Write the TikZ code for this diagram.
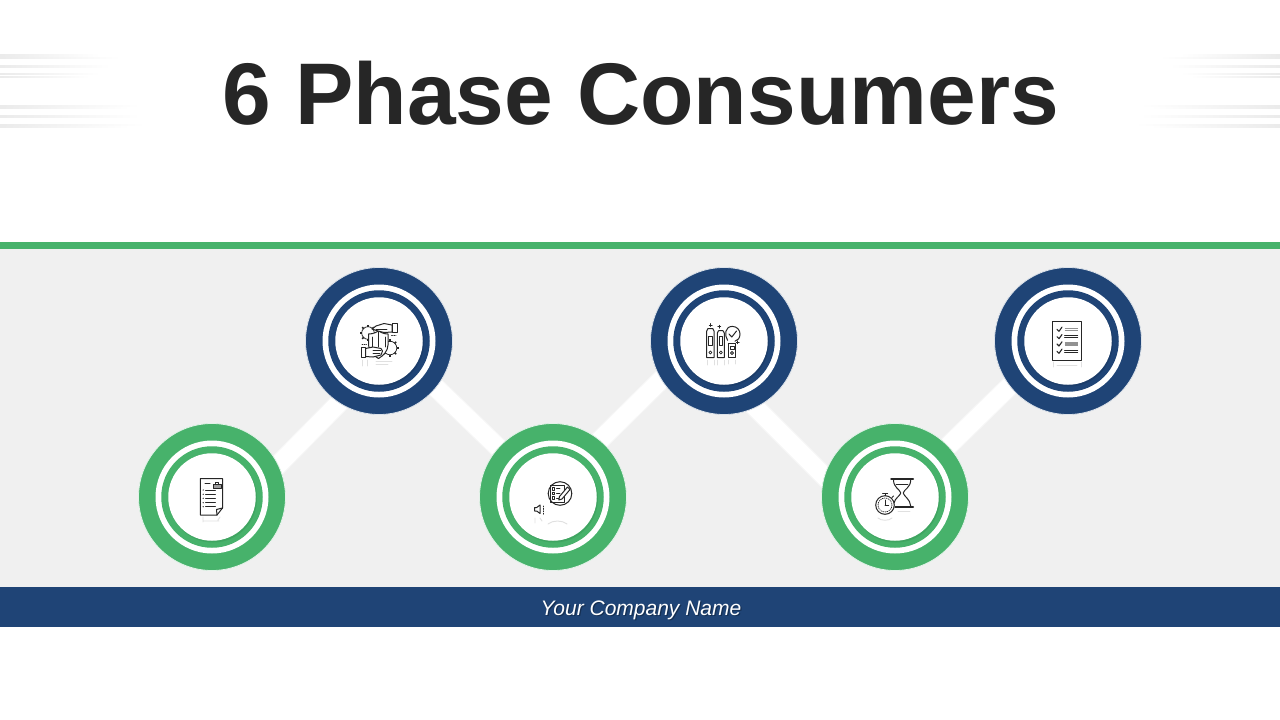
\documentclass[tikz,border=0pt]{standalone}
\usepackage{fontspec}
\setmainfont{Liberation Sans}
\usetikzlibrary{calc,decorations.pathmorphing}
\definecolor{brgreen}{HTML}{47B26B}
\definecolor{brgreend}{HTML}{3FA561}
\definecolor{brblue}{HTML}{1F4476}
\definecolor{brblued}{HTML}{1B3C69}
\definecolor{panelgray}{HTML}{F0F0F0}
\definecolor{titleink}{HTML}{262626}
\definecolor{iconink}{HTML}{262626}
\pgfdeclarelayer{panel}\pgfdeclarelayer{links}
\pgfsetlayers{panel,links,main}
\tikzset{
 outerdisc/.style={circle,minimum size=147pt,inner sep=0pt,fill=#1,draw=#1!15!white,line width=.8pt},
 ringwhite/.style={circle,minimum size=113pt,inner sep=0pt,fill=white},
 ringcolor/.style={circle,minimum size=101.5pt,inner sep=0pt,fill=#1},
 crescent/.style={circle,minimum size=88pt,inner sep=0pt,fill=#1},
 innerdisc/.style={circle,minimum size=87.5pt,inner sep=0pt,fill=white},
 linkbar/.style={line width=18pt,white},
 linkedge/.style={line width=20pt,black!3},
 ink/.style={draw=iconink,line width=1pt,line cap=round,line join=round},
 thin ink/.style={draw=iconink,line width=.75pt,line cap=round,line join=round},
 graybar/.style={draw=iconink!50,line width=1.2pt},
 refl/.style={draw=black!12,line width=.9pt,line cap=round},
 streakL/.style={left color=black!8,right color=white,draw=none},
 streakR/.style={right color=black!8,left color=white,draw=none},
}
\begin{document}
\begin{tikzpicture}[x=1pt,y=-1pt]
\useasboundingbox (0,0) rectangle (1280,720);
\begin{pgfonlayer}{panel}
\fill[white] (0,0) rectangle (1280,720);
\fill[panelgray] (0,249) rectangle (1280,587);
\fill[brgreen] (0,242) rectangle (1280,249);
\fill[brblue] (0,587) rectangle (1280,627);
\foreach \y/\w/\t in {55.5/100/1.2,57.8/120/1.2,66/110/2,74.3/100/1.2,76.7/90/1.2,105.7/140/1.2,108.3/130/1.2,116/140/2,125/145/1.2,127.3/130/1.2}{
  \fill[streakL] (0,\y-.5*\t) rectangle (\w,\y+.5*\t);
  \fill[streakR] (1280-\w,\y-.5*\t) rectangle (1280,\y+.5*\t);
}
\end{pgfonlayer}

\node[anchor=base,font=\fontsize{87.5}{88}\selectfont\bfseries,text=titleink,inner sep=0pt] (title) at (640.6,124) {6 Phase Consumers};
\node[anchor=base,font=\fontsize{21}{21}\selectfont\itshape,text=black,inner sep=0pt,opacity=.3] (companyshadow) at (642.2,616.2) {Your Company Name};
\node[anchor=base,font=\fontsize{21}{21}\selectfont\itshape,text=white,inner sep=0pt] (company) at (641,615.2) {Your Company Name};

% circles
\foreach \n/\x/\y/\c/\d in {c1/212/497/brgreen/brgreend,c2/379/341/brblue/brblued,c3/553/497/brgreen/brgreend,c4/724/341/brblue/brblued,c5/895/497/brgreen/brgreend,c6/1068/341/brblue/brblued}{
  \node[outerdisc=\c] (\n) at (\x,\y) {};
  \node[ringwhite] (\n w) at (\x,\y) {};
  \node[ringcolor=\c] (\n r) at (\x,\y) {};
  \node[crescent=\d] (\n s) at (\x+1,\y+1.5) {};
  \node[innerdisc] (\n i) at (\x,\y) {};
}
\begin{pgfonlayer}{links}
\foreach \s in {linkedge,linkbar}{
\draw[\s] ($(c1.center)+(60,-26)$) -- ($(c2.center)+(-33,55)$);
\draw[\s] ($(c2.center)+(49,39)$) -- ($(c3.center)+(-46,-41)$);
\draw[\s] ($(c3.center)+(38,-48)$) -- ($(c4.center)+(-55,31)$);
\draw[\s] ($(c4.center)+(24,59)$) -- ($(c5.center)+(-62,-12)$);
\draw[\s] ($(c5.center)+(45,-43)$) -- ($(c6.center)+(-50,37)$);
}
\end{pgfonlayer}

% icon 1: document with briefcase
\draw[refl] (203,517)--(203,522) (220,517)--(218,520) (203,521)--(219,521);
\draw[ink] (200.3,478.5)--(222.5,478.5)--(222.5,508)--(217,515)--(200.3,515)--cycle;
\draw[ink] (222.5,508)--(216.5,509.5)--(217,515);
\draw[ink] (205,483.5)--(210,483.5);
\draw[thin ink,fill=iconink!45] (213,484)rectangle(221,488.5);
\draw[thin ink] (215.5,484)--(215.5,482.2)--(218.5,482.2)--(218.5,484);
\foreach \y in {490,494.3,498.3,502.7,506.7}{
  \fill[iconink] (203.2,\y) circle (.7);
  \draw[thin ink] (205.5,\y)--(215.5,\y);
}

% icon 2: shield, gears, hands
\draw[refl] (362,360)--(362,366) (367,360)--(367,366) (376,361)--(392,361) (376,364.5)--(388,364.5);
\draw[thin ink,fill=white] (368,333) circle (6.3);
\draw[thin ink,fill=white] (390,348) circle (6.8);
\foreach \a in {0,45,...,315}{
  \draw[ink,line width=1.5pt,line cap=butt] ($(368,333)+(\a:6)$)--($(368,333)+(\a:8.2)$);
  \draw[ink,line width=1.5pt,line cap=butt] ($(390,348)+(\a:6.5)$)--($(390,348)+(\a:8.7)$);
}
\draw[ink,fill=white] (368.5,334) .. controls (374,334) and (376,332) .. (378.5,331) .. controls (381,332) and (383,334) .. (388,334) -- (388,345) .. controls (388,351) and (383,356) .. (378.5,358.5) .. controls (374,356) and (368.5,351) .. (368.5,345) -- cycle;
\draw[thin ink] (378.5,331)--(378.5,347) (372,337)--(372,347) (385,337)--(385,347);
\draw[ink,fill=white] (372,329)--(376,326)--(384,323.5)--(392,325)--(392,332)--(384,332.5)--(378,331)--cycle;
\draw[ink,fill=white] (392.5,323.5) rectangle (397,332.5);
\draw[thin ink] (376,329)--(387,329);
\draw[ink,fill=white] (365.5,348.5)--(373,347)--(381,348.5)--(382.5,351)--(381,355)--(373,357)--(365.5,356.5)--cycle;
\draw[ink,fill=white] (361.8,347) rectangle (365.5,357);
\draw[thin ink] (373,350.5)--(381,350.5) (373,353.5)--(380,353.5);
\draw[thin ink,dash pattern=on 1pt off 1.2pt] (362,344)--(366.5,344) (391.5,335)--(396,335);

% icon 3: clipboard in circle with speaker
\draw[refl] (535,518)--(535,523) (540,518)--(542,521);
\draw[refl] (548,524) .. controls (553,520) and (562,520) .. (567,524);
\draw[ink] (560,493.5) circle (11.8);
\draw[ink] (550,485.5) rectangle (564,502);
\foreach \y in {488.7,493.3,498}{
  \draw[thin ink] (552,\y-1.2) rectangle (554.5,\y+1.2);
  \draw[thin ink] (556.5,\y)--(560,\y);
}
\draw[ink,fill=white] (567.5,487)--(570,489.5)--(562,499)--(558.8,500)--(559.5,496.5)--cycle;
\draw[ink] (534.5,507.5)--(536.7,507.5)--(540,505)--(540,513.5)--(536.7,511)--(534.5,511)--cycle;
\draw[thin ink,dash pattern=on 1pt off 1.4pt] (543.5,506)--(543.5,515);

% icon 4: binders and clock
\draw[refl] (707,360)--(707,365) (714,360)--(714,365) (717.5,360)--(717.5,365) (724,360)--(724,365) (728.5,360)--(728.5,364) (735.5,360)--(735.5,364);
\draw[ink] (706.7,331)--(708,328.5)--(712.7,328.5)--(714,331)--(714,357.5)--(706.7,357.5)--cycle;
\draw[ink] (717.3,333)--(718.6,330.7)--(723,330.7)--(724.3,333)--(724.3,357.5)--(717.3,357.5)--cycle;
\draw[ink] (728.3,343.3)--(735.7,343.3)--(735.7,357.5)--(728.3,357.5)--cycle;
\draw[thin ink] (708.7,336) rectangle (712,345);
\draw[thin ink] (719.2,336) rectangle (722.4,345);
\draw[thin ink] (730,346) rectangle (734,349.5);
\draw[thin ink] (710.3,352.5) circle (1.5) (720.8,352.5) circle (1.5) (732,353) circle (1.5);
\draw[ink] (727.6,340.3) .. controls (724,335) and (725,326.4) .. (732.3,326.4) .. controls (737,326.4) and (740,330) .. (740,334) .. controls (740,338) and (738,340.5) .. (735,341.2);
\draw[ink] (729,334)--(731.8,337)--(736.5,331);
\draw[thin ink] (710.7,323.5)--(710.7,326.5) (709.2,325)--(712.2,325);
\draw[thin ink] (719.3,325.2)--(719.3,328.2) (717.8,326.7)--(720.8,326.7);
\draw[thin ink] (737.7,340.8)--(737.7,343.8) (736.2,342.3)--(739.2,342.3);

% icon 5: stopwatch and hourglass
\draw[refl] (878,518) .. controls (881,521) and (889,521) .. (892,518);
\draw[refl] (898,511)--(910,511);
\draw[ink] (893.5,480) .. controls (893.5,487.5) and (900,489.5) .. (900.8,493) .. controls (900,496) and (895,498) .. (894,503);
\draw[ink] (910.7,480) .. controls (910.7,487.5) and (904,489.5) .. (903.2,493) .. controls (904,496.5) and (910.2,499) .. (910.7,506);
\draw[thin ink] (896,484.5)--(908,484.5);
\draw[ink,line width=1.5pt] (891,479)--(913.3,479);
\draw[ink,line width=1.5pt] (895,507)--(913.3,507);
\draw[ink,fill=white] (885,505) circle (9.3);
\draw[thin ink,dash pattern=on .8pt off 1.2pt] (885,505) circle (7);
\draw[ink] (885,505)--(885,500) (885,505)--(888.5,505);
\draw[ink] (885,495.7)--(885,493.5) (882.5,493)--(887.5,493);
\draw[ink] (892,497.5)--(893.5,496);

% icon 6: checklist
\draw[refl] (1053,362)--(1053,367) (1081,362)--(1081,367) (1057,365)--(1077,365);
\draw[ink] (1052.3,321.7) rectangle (1081.7,360);
\foreach \y in {329.3,336.7,344,351.3}{
  \draw[ink,line width=1.1pt] (1057,\y)--(1059,\y+2)--(1062,\y-2.2);
}
\foreach \y in {336.7,351.3}{
  \draw[thin ink] (1064.5,\y-1.2)--(1077.7,\y-1.2) (1064.5,\y+1)--(1077.7,\y+1);
}
\foreach \y in {329.3,344}{
  \draw[graybar] (1064.5,\y-1.1)--(1077.7,\y-1.1) (1064.5,\y+1)--(1077.7,\y+1);
}
\end{tikzpicture}
\end{document}
